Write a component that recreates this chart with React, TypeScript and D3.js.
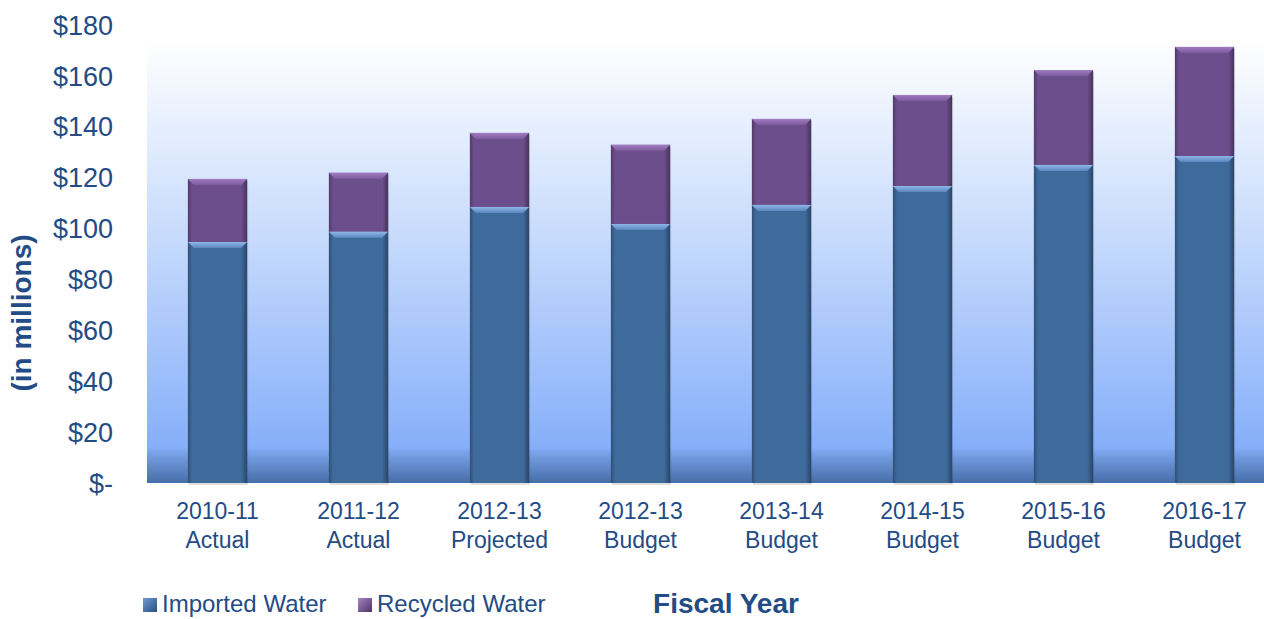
import React from "react";
import * as d3 from "d3";

const categories = [
  ["2010-11", "Actual"],
  ["2011-12", "Actual"],
  ["2012-13", "Projected"],
  ["2012-13", "Budget"],
  ["2013-14", "Budget"],
  ["2014-15", "Budget"],
  ["2015-16", "Budget"],
  ["2016-17", "Budget"],
];
const imported = [94.7, 98.7, 108.5, 101.8, 109.3, 116.7, 125.0, 128.5];
const recycled = [24.8, 23.2, 29.1, 31.1, 33.8, 35.8, 37.3, 42.9];
const yTicks = [0, 20, 40, 60, 80, 100, 120, 140, 160, 180];
const seriesNames = ["Imported Water", "Recycled Water"];

const W = 1264;
const H = 619;
const textColor = "#234b85";
const blue = "#3f6a9c";
const purple = "#6d4e8d";

export default function App() {
  const x = d3.scaleBand<number>().domain(d3.range(categories.length)).range([147, 1275]).paddingInner(0.58).paddingOuter(0.29);
  const y = d3.scaleLinear().domain([0, 180]).range([483, 25]);
  const plotTop = 40;
  const plotBottom = y(0);
  const bw = x.bandwidth();

  const seg = (x0: number, y0: number, y1: number, color: string, lightId: string, key: string) => {
    const h = y1 - y0;
    const bev = Math.min(6, h / 3);
    return (
      <g key={key}>
        <rect x={x0} y={y0} width={bw} height={h} fill={color} />
        <rect x={x0} y={y0} width={bw} height={h} fill="url(#edgeGrad)" />
        <polygon
          points={`${x0},${y0} ${x0 + bw},${y0} ${x0 + bw - bev},${y0 + bev} ${x0 + bev},${y0 + bev}`}
          fill={`url(#${lightId})`}
        />
      </g>
    );
  };

  const legendX = [143, 358];

  return (
    <svg width={W} height={H} style={{ position: "absolute", left: 0, top: 0 }} fontFamily="'Liberation Sans', Arial, sans-serif">
      <defs>
        <linearGradient id="bgGrad" x1="0" y1={plotTop} x2="0" y2={plotBottom} gradientUnits="userSpaceOnUse">
          <stop offset="0" stopColor="#ffffff" />
          <stop offset="0.45" stopColor="#c6dafc" />
          <stop offset="0.92" stopColor="#86affa" />
          <stop offset="0.93" stopColor="#7aa3ea" />
          <stop offset="1" stopColor="#466ea8" />
        </linearGradient>
        <linearGradient id="edgeGrad" x1="0" y1="0" x2="1" y2="0">
          <stop offset="0" stopColor="#000" stopOpacity="0.25" />
          <stop offset="0.07" stopColor="#000" stopOpacity="0.0" />
          <stop offset="0.9" stopColor="#000" stopOpacity="0.0" />
          <stop offset="1" stopColor="#000" stopOpacity="0.35" />
        </linearGradient>
        <linearGradient id="blueLight" x1="0" y1="0" x2="0" y2="1">
          <stop offset="0" stopColor="#8fb6e8" />
          <stop offset="1" stopColor="#5a86bd" />
        </linearGradient>
        <linearGradient id="purpleLight" x1="0" y1="0" x2="0" y2="1">
          <stop offset="0" stopColor="#a07cc0" />
          <stop offset="1" stopColor="#7d5c9e" />
        </linearGradient>
        <linearGradient id="legBlue" x1="0" y1="0" x2="1" y2="1">
          <stop offset="0" stopColor="#6f9ad0" />
          <stop offset="1" stopColor="#2a4f80" />
        </linearGradient>
        <linearGradient id="legPurple" x1="0" y1="0" x2="1" y2="1">
          <stop offset="0" stopColor="#a586c4" />
          <stop offset="1" stopColor="#4b3366" />
        </linearGradient>
      </defs>
      <rect x={147} y={plotTop} width={W - 147} height={plotBottom - plotTop} fill="url(#bgGrad)" />
      {categories.map((_, i) => {
        const x0 = x(i)!;
        return (
          <g key={i}>
            <rect x={x0 + 1} y={y(imported[i] + recycled[i]) + 2} width={bw} height={plotBottom - y(imported[i] + recycled[i])} fill="#000" opacity={0.12} />
            {seg(x0, y(imported[i] + recycled[i]), y(imported[i]), purple, "purpleLight", "r" + i)}
            {seg(x0, y(imported[i]), y(0), blue, "blueLight", "b" + i)}
          </g>
        );
      })}
      {yTicks.map((t) => (
        <text key={t} x={113} y={y(t)} dy="0.36em" textAnchor="end" fontSize={27} fill={textColor}>
          {t === 0 ? "$-" : `$${t}`}
        </text>
      ))}
      {categories.map((c, i) => (
        <text key={i} x={x(i)! + bw / 2} y={519} textAnchor="middle" fontSize={23} fill={textColor}>
          <tspan x={x(i)! + bw / 2}>{c[0]}</tspan>
          <tspan x={x(i)! + bw / 2} dy={29}>{c[1]}</tspan>
        </text>
      ))}
      <text transform={`translate(31,313) rotate(-90)`} textAnchor="middle" fontSize={28} fontWeight="bold" fill={textColor}>
        (in millions)
      </text>
      <text x={726} y={613} textAnchor="middle" fontSize={28} fontWeight="bold" fill={textColor}>
        Fiscal Year
      </text>
      {seriesNames.map((s, i) => {
        const lx = legendX[i];
        return (
          <g key={s}>
            <rect x={lx} y={598} width={14} height={14} fill={i === 0 ? "url(#legBlue)" : "url(#legPurple)"} />
            <text x={lx + 19} y={612} fontSize={24} fill={textColor}>{s}</text>
          </g>
        );
      })}
    </svg>
  );
}
